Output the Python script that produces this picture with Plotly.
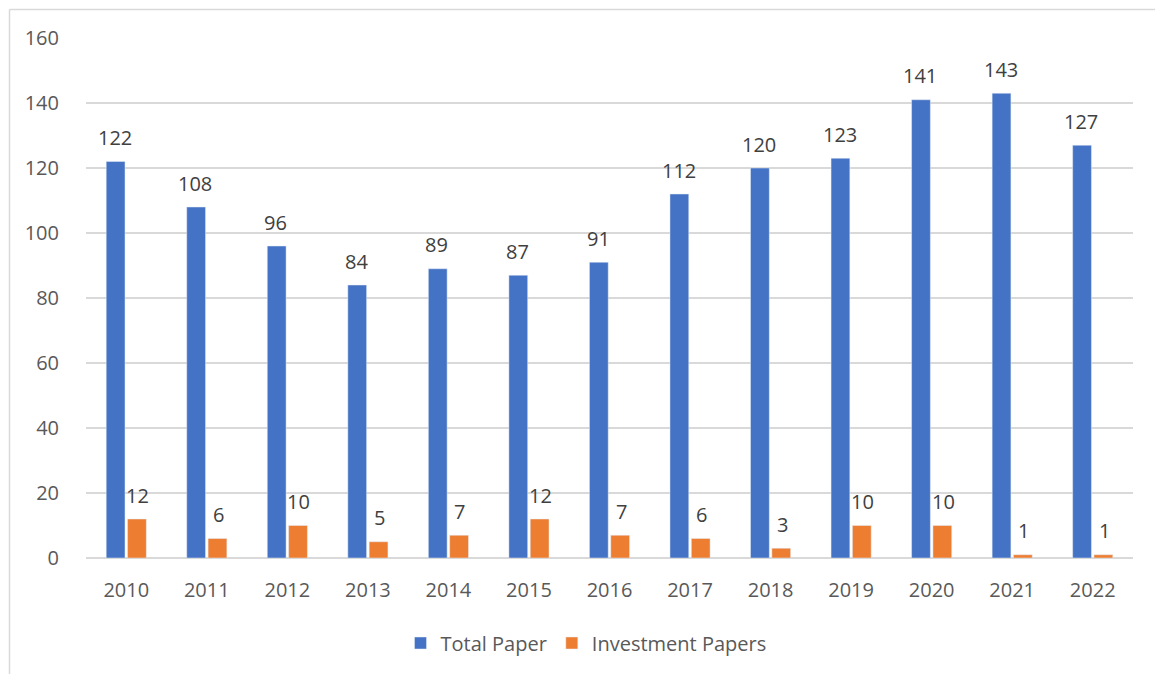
import plotly.graph_objects as go

years = ["2010", "2011", "2012", "2013", "2014", "2015", "2016", "2017", "2018", "2019", "2020", "2021", "2022"]
total_paper = [122, 108, 96, 84, 89, 87, 91, 112, 120, 123, 141, 143, 127]
investment_papers = [12, 6, 10, 5, 7, 12, 7, 6, 3, 10, 10, 1, 1]

BLUE = "#4472C4"
ORANGE = "#ED7D31"
FONT = "Open Sans"
FS = 20

fig = go.Figure()
fig.add_trace(go.Bar(x=years, y=total_paper, name="Total Paper", marker_color=BLUE))
fig.add_trace(go.Bar(x=years, y=investment_papers, name="Investment Papers", marker_color=ORANGE))

annotations = []
for i, v in enumerate(total_paper):
    annotations.append(dict(x=i, y=v, text=str(v), showarrow=False, xshift=-11.5, yshift=24,
                            yanchor="middle", font=dict(family=FONT, size=FS, color="#404040")))
for i, v in enumerate(investment_papers):
    annotations.append(dict(x=i, y=v, text=str(v), showarrow=False, xshift=11.5, yshift=24,
                            yanchor="middle", font=dict(family=FONT, size=FS, color="#404040")))

L, R, T, B = 86, 22, 38, 116
W, H = 1155, 674
pw, ph = W - L - R, H - T - B

def px(x):
    return (x - L) / pw

def py(y):
    return (H - B - y) / ph

shapes = [
    dict(type="line", xref="paper", yref="paper", x0=px(9.5), x1=px(9.5), y0=py(9.5), y1=py(700),
         line=dict(color="#d9d9d9", width=1.5)),
    dict(type="line", xref="paper", yref="paper", x0=px(9.5), x1=px(1200), y0=py(9.5), y1=py(9.5),
         line=dict(color="#d9d9d9", width=1.5)),
]

fig.update_layout(
    width=W, height=H,
    margin=dict(l=L, r=R, t=T, b=B),
    paper_bgcolor="white", plot_bgcolor="white",
    barmode="group", bargap=0.47, bargroupgap=0.12,
    font=dict(family=FONT, size=FS, color="#595959"),
    annotations=annotations,
    shapes=shapes,
    showlegend=True,
    legend=dict(orientation="h", x=px(586), xanchor="center", y=py(643), yanchor="middle",
                font=dict(family=FONT, size=FS, color="#595959"), itemwidth=30,
                traceorder="normal"),
    xaxis=dict(type="category", range=[-0.5, len(years) - 0.5], showgrid=False, showline=False,
               ticks="outside", ticklen=14,
               tickcolor="rgba(0,0,0,0)", tickfont=dict(size=FS, color="#595959")),
    yaxis=dict(range=[0, 160], dtick=20, showgrid=True, gridcolor="#d9d9d9", gridwidth=1.5,
               zeroline=True, zerolinecolor="#d9d9d9", zerolinewidth=2,
               ticks="outside", ticklen=22, tickcolor="rgba(0,0,0,0)",
               tickfont=dict(size=FS, color="#595959")),
)

fig.write_html("out.html")
